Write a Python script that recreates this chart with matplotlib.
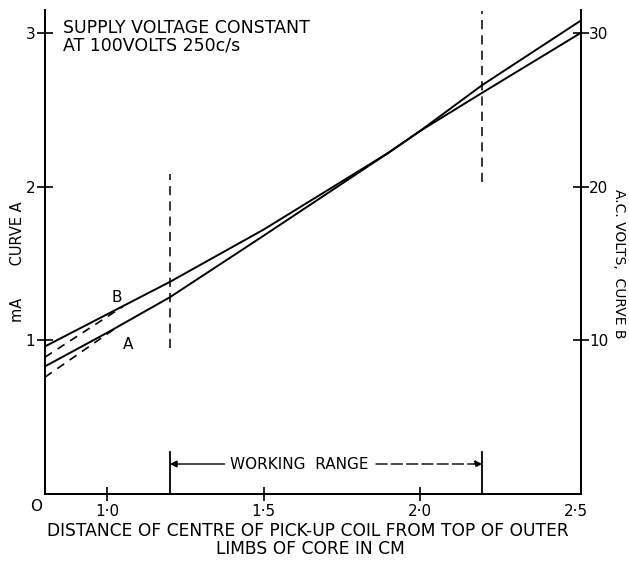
import matplotlib.pyplot as plt

# distance of pick-up coil centre (cm)
dist = [0.8, 1.0, 1.2, 1.5, 1.7, 1.9, 2.0, 2.2, 2.516]
# curve A: current in mA (left scale)
curve_a = [0.83, 1.05, 1.28, 1.68, 1.95, 2.22, 2.36, 2.66, 3.08]
# curve B: a.c. volts (right scale)
curve_b = [9.6, 11.7, 13.8, 17.2, 19.7, 22.2, 23.6, 26.1, 30.0]

# dashed extrapolations near the low end
ext_a_x = [0.8, 1.02]
ext_a_y = [0.76, 1.07]
ext_b_x = [0.8, 1.05]
ext_b_y = [8.9, 12.2]

work_lo, work_hi = 1.2, 2.2

xticks = [1.0, 1.5, 2.0, 2.5]
xticklabels = ['1·0', '1·5', '2·0', '2·5']
yticks_a = [1, 2, 3]
yticks_b = [10, 20, 30]

plt.rcParams['font.family'] = 'DejaVu Sans'

fig = plt.figure(figsize=(6.29, 5.65), dpi=100)
ax = fig.add_axes([0.0715, 0.1257, 0.852, 0.857])
ax2 = ax.twinx()

ax.set_xlim(0.8, 2.516)
ax.set_ylim(0, 3.15)
ax2.set_ylim(0, 31.5)

for a in (ax, ax2):
    a.spines['top'].set_visible(False)
    for s in a.spines.values():
        s.set_linewidth(1.3)

ax.plot(dist, curve_a, color='black', lw=1.4, solid_capstyle='butt')
ax2.plot(dist, curve_b, color='black', lw=1.4, solid_capstyle='butt')
ax.plot(ext_a_x, ext_a_y, color='black', lw=1.2, ls=(0, (5, 4)))
ax2.plot(ext_b_x, ext_b_y, color='black', lw=1.2, ls=(0, (5, 4)))

ax.text(1.03, 1.28, 'B', fontsize=11, ha='center', va='center')
ax.text(1.065, 0.97, 'A', fontsize=11, ha='center', va='center')

# working range limits
ax.plot([work_lo, work_lo], [0.95, 2.08], color='black', lw=1.1, ls=(0, (6, 4)))
ax.plot([work_hi, work_hi], [2.03, 3.14], color='black', lw=1.1, ls=(0, (6, 4)))
ax.plot([work_lo, work_lo], [0, 0.27], color='black', lw=1.3)
ax.plot([work_hi, work_hi], [0, 0.27], color='black', lw=1.3)
ax.text(1.615, 0.195, 'WORKING  RANGE', fontsize=11, ha='center', va='center')
ax.annotate('', xy=(work_lo, 0.195), xytext=(1.375, 0.195),
            arrowprops=dict(arrowstyle='-|>', color='black', lw=1.0,
                            mutation_scale=10, shrinkA=0, shrinkB=0))
ax.annotate('', xy=(work_hi, 0.195), xytext=(1.86, 0.195),
            arrowprops=dict(arrowstyle='-|>', color='black', lw=1.0, ls=(0, (8, 3)),
                            mutation_scale=10, shrinkA=0, shrinkB=0))

ax.text(0.858, 3.09, 'SUPPLY VOLTAGE CONSTANT\nAT 100VOLTS 250c/s', fontsize=12.5,
        ha='left', va='top', linespacing=1.0)

ax.set_xticks(xticks)
ax.set_xticklabels(xticklabels, fontsize=11)
ax.xaxis.get_major_ticks()[-1].tick1line.set_visible(False)
ax.tick_params(axis='x', direction='inout', length=10, width=1.2, pad=2)
ax.set_yticks(yticks_a)
ax.set_yticklabels([str(v) for v in yticks_a], fontsize=11)
ax.tick_params(axis='y', direction='inout', length=12, width=1.2, pad=1)
ax2.set_yticks(yticks_b)
ax2.set_yticklabels([str(v) for v in yticks_b], fontsize=11)
ax2.tick_params(axis='y', direction='inout', length=12, width=1.2, pad=0)

ax.text(0.79, -0.03, 'O', fontsize=11, ha='right', va='top')

ax.set_ylabel('mA       CURVE A', fontsize=10.5, labelpad=2)
ax.yaxis.set_label_coords(-0.037, 0.48)
ax2.set_ylabel('')
fig.text(619 / 629, 1 - 264 / 565, 'A.C. VOLTS,  CURVE B', fontsize=10,
         rotation=-90, ha='center', va='center')

fig.text(308 / 629, 1 - 531 / 565,
         'DISTANCE OF CENTRE OF PICK-UP COIL FROM TOP OF OUTER',
         fontsize=12.3, ha='center', va='center')
fig.text(310 / 629, 1 - 549 / 565, 'LIMBS OF CORE IN CM',
         fontsize=12.3, ha='center', va='center')

fig.savefig('out.png', dpi=100)
